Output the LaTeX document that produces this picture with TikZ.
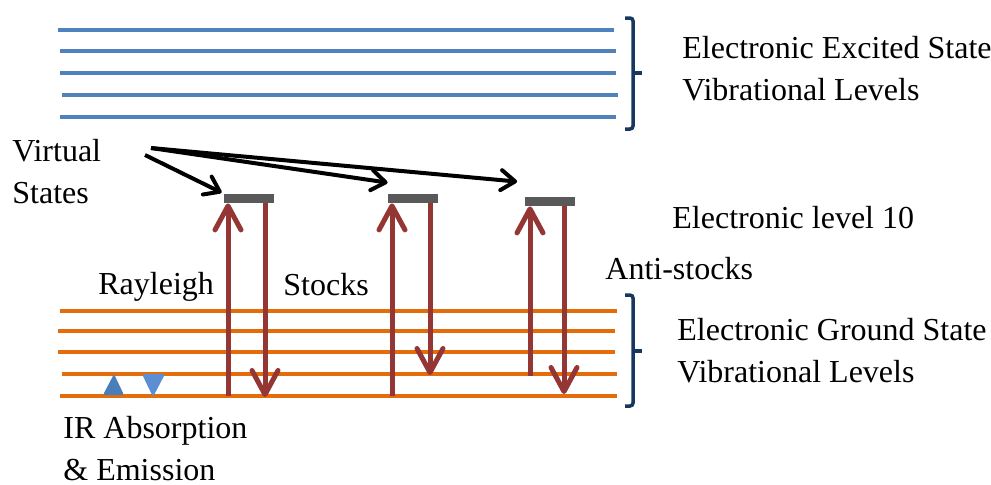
\documentclass[tikz,border=0pt]{standalone}
\usepackage{fontspec}
\setmainfont{Liberation Serif}
\usepackage{tikz}
\usetikzlibrary{calc,arrows.meta,positioning}
\definecolor{excited}{HTML}{4F81BD}
\definecolor{ground}{HTML}{E46C0A}
\definecolor{raman}{HTML}{943634}
\definecolor{virtual}{HTML}{595959}
\definecolor{navy}{HTML}{17375E}
\definecolor{irup}{HTML}{4A7EBB}
\definecolor{irdown}{HTML}{5B8ED2}
\begin{document}
\begin{tikzpicture}[x=0.5pt, y=-0.5pt,
  every node/.style={font=\fontsize{16}{20.8}\selectfont, align=left, inner sep=0pt, anchor=base west},
  level/.style={line width=1.6pt},
  vbar/.style={draw=none, fill=virtual, minimum width=25pt, minimum height=4.5pt, anchor=center},
  transition/.style={raman, line width=2.5pt, -{Straight Barb[length=12pt,width=13pt,round]}},
  pointer/.style={black, line width=2pt, -{Straight Barb[length=7pt,width=10pt,round]}},
  groupbrace/.style={navy, line width=1.75pt, rounded corners=1.5pt}]
\useasboundingbox (0,0) rectangle (991,484);
% vibrational levels
\foreach \xa/\xb/\yy in {58/614/30, 60/616/51, 60/616/73, 62/618/95, 60/616/117}
  \draw[level, excited] (\xa,\yy) -- (\xb,\yy);
\foreach \xa/\xb/\yy in {60/617/311, 58/615/331, 58/615/352, 62/617/374, 60/617/396}
  \draw[level, ground] (\xa,\yy) -- (\xb,\yy);
% braces
\draw[groupbrace] (625,18) -| (633,129) -- (625,129);
\draw[groupbrace] (633,73) -- (642,73);
\draw[groupbrace] (625,295) -| (633,406) -- (625,406);
\draw[groupbrace] (633,351) -- (642,351);
% virtual states
\node[vbar] (vs1) at (249,198.5) {};
\node[vbar] (vs2) at (413,198.5) {};
\node[vbar] (vs3) at (549.5,201.5) {};
% labels (base = last line)
\node (vslbl) at (12,203) {Virtual\\States};
\node (exclbl) at (682,100) {Electronic Excited State\\Vibrational Levels};
\node (lvllbl) at (672,228) {Electronic level 10};
\node (antilbl) at (605,279) {Anti-stocks};
\node (gndlbl) at (677,382) {Electronic Ground State\\Vibrational Levels};
\node (raylbl) at (98,294) {Rayleigh};
\node (stoklbl) at (283,295) {Stocks};
\node (irlbl) at (63,480) {IR Absorption\\\& Emission};
% pointers to virtual states
\coordinate (src1) at (145,155);
\coordinate (src2) at (151,148);
\draw[pointer] (src1) -- ([shift={(-2,-1)}]vs1.north west);
\draw[pointer] (src2) -- ([shift={(0,-11)}]vs2.north west);
\draw[pointer] (src2) -- ([shift={(-7,-15)}]vs3.north west);
% Raman transitions
\coordinate (up1) at (228,396);
\coordinate (dn1) at (265,397);
\coordinate (up2) at (392,396);
\coordinate (dn2) at (430,375);
\coordinate (up3) at (530,376);
\coordinate (dn3) at (564,394);
\draw[transition] (up1) -- (up1 |- vs1.south);
\draw[transition] (dn1 |- vs1.south) -- (dn1);
\draw[transition] (up2) -- (up2 |- vs2.south);
\draw[transition] (dn2 |- vs2.south) -- (dn2);
\draw[transition] (up3) -- (up3 |- vs3.south);
\draw[transition] (dn3 |- vs3.south) -- (dn3);
% IR absorption and emission
\fill[irup, rounded corners=1pt] (103,395) -- (124,395) -- (114,374) -- cycle;
\fill[irdown, rounded corners=1pt] (142,374) -- (165,374) -- (153,397) -- cycle;
\end{tikzpicture}
\end{document}
